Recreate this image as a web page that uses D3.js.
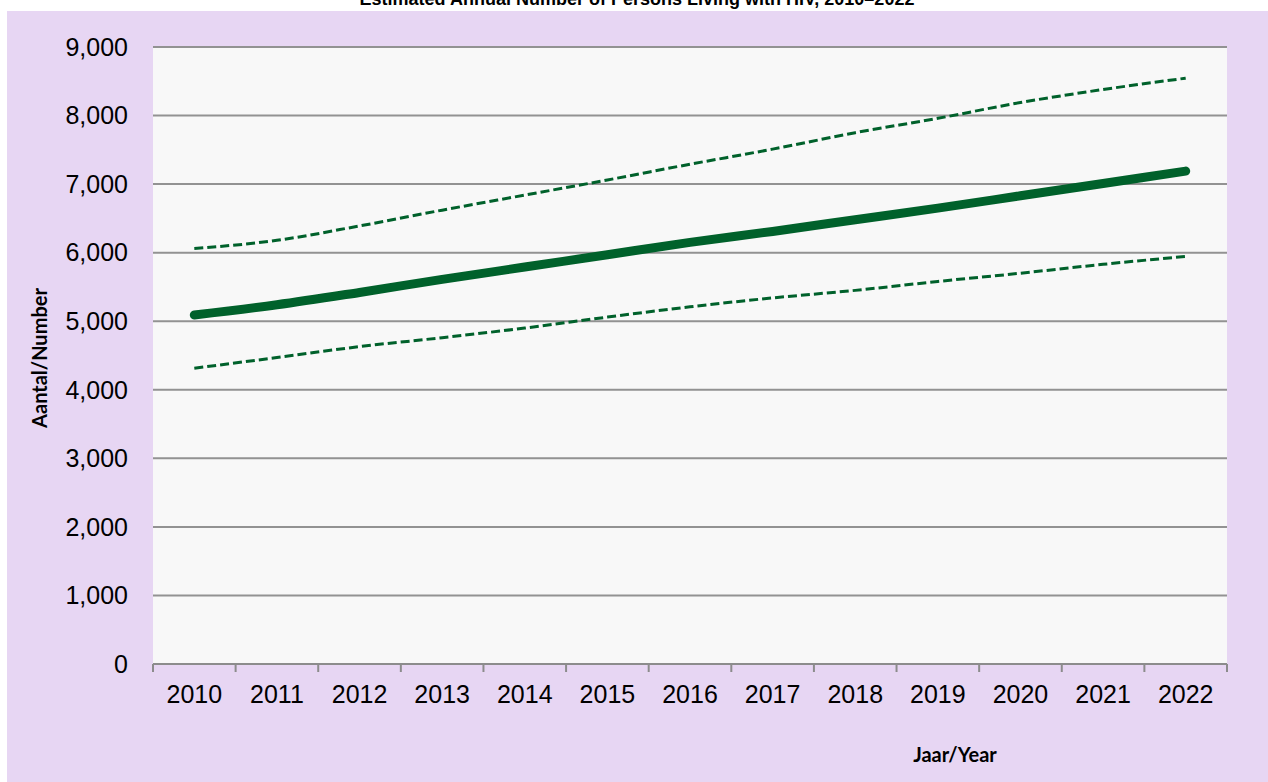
<!DOCTYPE html>
<html>
<head>
<meta charset="utf-8">
<script src="https://cdn.jsdelivr.net/npm/d3@7"></script>
<style>
body { margin: 0; background: #ffffff; }
svg { display: block; }
.tick-label { font-family: "Liberation Sans", Arial, sans-serif; font-size: 25px; fill: #000; }
.axis-title { font-family: Lato, "Open Sans", sans-serif; font-weight: bold; font-size: 20px; fill: #000; }
</style>
</head>
<body>
<div id="chart"></div>
<script>
// data
var years = [2010, 2011, 2012, 2013, 2014, 2015, 2016, 2017, 2018, 2019, 2020, 2021, 2022];
var estimate = [5090, 5240, 5420, 5610, 5790, 5970, 6150, 6310, 6480, 6650, 6830, 7010, 7190];
var upper = [6060, 6180, 6390, 6620, 6840, 7060, 7290, 7510, 7750, 7960, 8190, 8380, 8545];
var lower = [4315, 4470, 4630, 4760, 4900, 5060, 5210, 5340, 5450, 5580, 5700, 5830, 5945];
var yTicks = [0, 1000, 2000, 3000, 4000, 5000, 6000, 7000, 8000, 9000];

var width = 1268, height = 782;
var plotLeft = 153, plotRight = 1227, plotTop = 47, plotBottom = 664;
var green = "#00612b";

var svg = d3.select("#chart")
    .append("svg")
    .attr("width", width)
    .attr("height", height);

// lavender frame
svg.append("rect")
    .attr("x", 7).attr("y", 11)
    .attr("width", width - 7).attr("height", height - 11)
    .attr("fill", "#e7d6f3");

// title, cut at the top like the original
svg.append("text")
    .text("Estimated Annual Number of Persons Living with HIV, 2010\u20132022")
    .attr("x", 637).attr("y", 5)
    .attr("text-anchor", "middle")
    .style("font-family", "'Liberation Sans', Arial, sans-serif")
    .style("font-weight", "bold")
    .style("font-size", "18px");

// plot area
svg.append("rect")
    .attr("x", plotLeft).attr("y", plotTop)
    .attr("width", plotRight - plotLeft).attr("height", plotBottom - plotTop)
    .attr("fill", "#f8f8f8");

var xScale = d3.scaleBand()
    .domain(years)
    .range([plotLeft, plotRight]);

var yScale = d3.scaleLinear()
    .domain([0, 9000])
    .range([plotBottom, plotTop]);

// gridlines
svg.append("g")
    .selectAll("line")
    .data(yTicks.filter(function(d) { return d > 0; }))
    .enter().append("line")
    .attr("x1", plotLeft).attr("x2", plotRight)
    .attr("y1", function(d) { return yScale(d); })
    .attr("y2", function(d) { return yScale(d); })
    .attr("stroke", "#929292")
    .attr("stroke-width", 2);

// y labels
svg.append("g")
    .selectAll("text")
    .data(yTicks)
    .enter().append("text")
    .classed("tick-label", true)
    .attr("x", 128)
    .attr("y", function(d) { return yScale(d); })
    .attr("dy", "0.35em")
    .attr("text-anchor", "end")
    .text(function(d) { return d3.format(",")(d); });

// x axis
var xAxis = d3.axisBottom(xScale).tickSize(0).tickPadding(21);
var gx = svg.append("g")
    .attr("transform", "translate(0," + plotBottom + ")")
    .call(xAxis);
gx.select(".domain").remove();
gx.selectAll("text").attr("class", "tick-label").attr("font-size", null).attr("font-family", null);

svg.append("line")
    .attr("x1", plotLeft).attr("x2", plotRight)
    .attr("y1", plotBottom).attr("y2", plotBottom)
    .attr("stroke", "#8c8c8c").attr("stroke-width", 2);

var bounds = years.map(function(d) { return xScale(d); }).concat([plotRight]);
svg.append("g")
    .selectAll("line")
    .data(bounds)
    .enter().append("line")
    .attr("x1", function(d) { return d; })
    .attr("x2", function(d) { return d; })
    .attr("y1", plotBottom).attr("y2", plotBottom + 8)
    .attr("stroke", "#8c8c8c").attr("stroke-width", 2);

// lines (smoothed like the original)
var line = d3.line()
    .x(function(d, i) { return xScale(years[i]) + xScale.bandwidth() / 2; })
    .y(function(d) { return yScale(d); })
    .curve(d3.curveMonotoneX);

[upper, lower].forEach(function(series) {
    svg.append("path")
        .datum(series)
        .attr("fill", "none")
        .attr("stroke", green)
        .attr("stroke-width", 3)
        .attr("stroke-dasharray", "9,4")
        .attr("d", line);
});

svg.append("path")
    .datum(estimate)
    .attr("fill", "none")
    .attr("stroke", green)
    .attr("stroke-width", 9)
    .attr("stroke-linecap", "round")
    .attr("stroke-linejoin", "round")
    .attr("d", line);

// axis titles
svg.append("text")
    .classed("axis-title", true)
    .text("Jaar/Year")
    .attr("x", 955).attr("y", 762)
    .attr("text-anchor", "middle");

svg.append("g")
    .attr("transform", "translate(47,358)")
    .append("text")
    .classed("axis-title", true)
    .text("Aantal/Number")
    .attr("text-anchor", "middle")
    .attr("transform", "rotate(-90)");
</script>
</body>
</html>
